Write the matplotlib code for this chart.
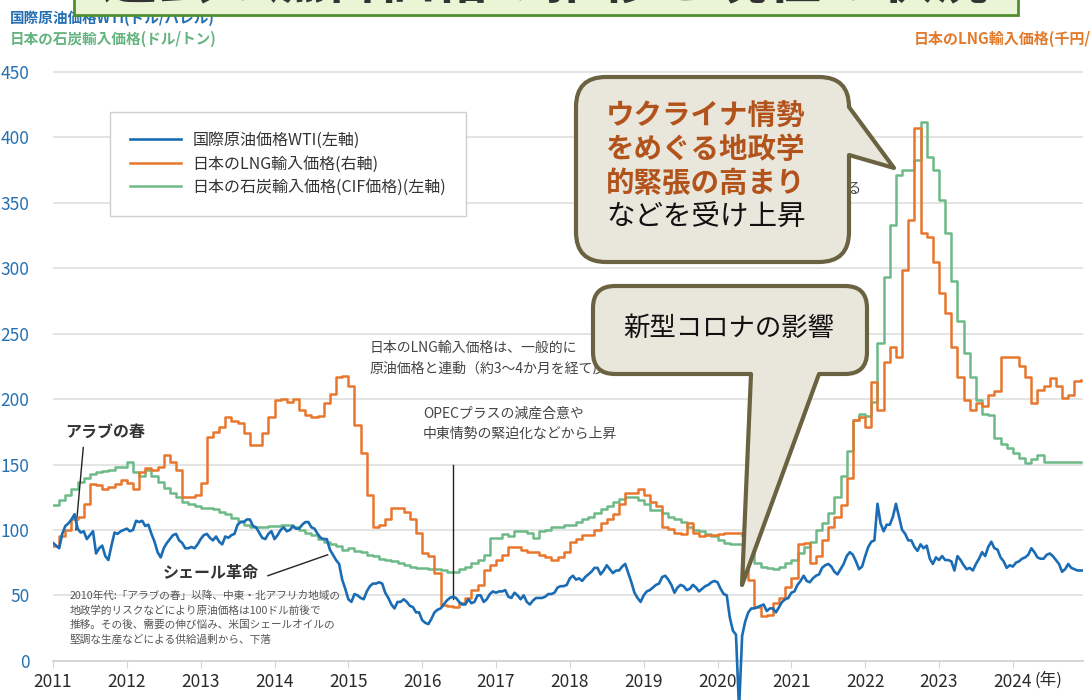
import numpy as np
import matplotlib
matplotlib.use("Agg")
import matplotlib.pyplot as plt
from matplotlib.path import Path
from matplotlib.patches import PathPatch, Rectangle

plt.rcParams['font.family'] = ['Noto Sans CJK JP', 'DejaVu Sans']

# --- data ---
# WTI, twice a month (1st / 16th), 2011-01 .. 2024-12, USD/bbl
wti = [
    90, 88, 86, 97, 103, 105, 108, 112, 101, 98, 99, 93, 96, 99, 82, 86, 88, 80, 77, 88, 98, 97, 99, 100,   # 2011
    101, 99, 100, 107, 106, 107, 103, 104, 97, 91, 83, 79, 86, 90, 93, 96, 97, 92, 90, 86, 86, 87, 86, 89,   # 2012
    93, 96, 97, 94, 92, 95, 91, 89, 95, 94, 96, 97, 104, 106, 106, 108, 108, 103, 102, 98, 94, 93, 97, 99,   # 2013
    93, 96, 100, 102, 99, 100, 103, 101, 101, 104, 106, 106, 102, 101, 97, 94, 93, 93, 85, 81, 77, 74, 62, 55,  # 2014
    47, 45, 51, 50, 48, 47, 53, 57, 59, 59, 60, 59, 52, 48, 43, 40, 45, 45, 47, 45, 42, 41, 37, 37,   # 2015
    31, 29, 28, 32, 37, 39, 40, 43, 46, 48, 49, 48, 45, 43, 43, 47, 44, 45, 50, 50, 45, 47, 51, 53,   # 2016
    52, 53, 53, 54, 49, 48, 52, 50, 47, 50, 45, 43, 46, 48, 48, 48, 49, 51, 51, 52, 56, 57, 57, 58,   # 2017
    63, 65, 62, 63, 61, 64, 66, 68, 71, 71, 66, 69, 73, 70, 67, 69, 69, 72, 74, 67, 60, 52, 48, 45,   # 2018
    50, 53, 54, 56, 58, 59, 64, 65, 62, 58, 52, 56, 58, 57, 54, 55, 58, 56, 53, 55, 57, 58, 60, 61,   # 2019
    60, 55, 51, 50, 33, 23, 20, -37, 19, 30, 37, 40, 40, 41, 42, 43, 38, 40, 40, 37, 41, 45, 47, 48,  # 2020
    52, 53, 58, 61, 65, 61, 60, 63, 65, 66, 71, 73, 74, 72, 68, 66, 70, 74, 80, 83, 81, 76, 70, 72,   # 2021
    80, 87, 91, 92, 120, 105, 99, 104, 104, 110, 120, 110, 100, 97, 92, 92, 87, 84, 89, 86, 88, 78, 74, 79,  # 2022
    77, 80, 77, 77, 76, 69, 80, 77, 73, 70, 71, 69, 74, 78, 83, 80, 87, 91, 86, 85, 79, 76, 71, 73,   # 2023
    72, 75, 76, 78, 79, 81, 86, 83, 79, 78, 78, 81, 82, 80, 77, 74, 68, 70, 74, 71, 70, 69, 69, 69,   # 2024
]

# Japan LNG import price, monthly, 2011-01 .. 2024-12 (plotted on left scale)
lng = [
    88, 95, 100, 108, 110, 120, 135, 134, 131, 133, 135, 138,
    136, 131, 144, 147, 146, 148, 157, 152, 146, 125, 125, 127,
    136, 171, 175, 179, 186, 183, 182, 174, 165, 165, 174, 186,
    199, 200, 198, 200, 192, 188, 186, 187, 197, 204, 217, 218,
    210, 180, 159, 127, 102, 104, 108, 117, 117, 114, 108, 98,
    82, 80, 67, 43, 42, 41, 44, 48, 54, 58, 69, 73,
    77, 81, 87, 87, 85, 83, 83, 81, 79, 77, 79, 83,
    91, 93, 96, 96, 100, 105, 108, 112, 120, 128, 128, 131,
    127, 121, 118, 102, 101, 98, 97, 105, 98, 95, 96, 96,
    97, 98, 98, 98, 95, 62, 41, 34, 35, 44, 48, 56,
    63, 89, 90, 75, 80, 92, 102, 110, 119, 140, 184, 186,
    179, 213, 192, 228, 240, 232, 299, 337, 407, 327, 324, 305,
    281, 266, 240, 217, 199, 192, 197, 195, 203, 206, 232, 232,
    232, 225, 217, 197, 207, 210, 216, 210, 201, 203, 214, 215,
]

# Japan coal import price (CIF), monthly, USD/t
coal = [
    119, 123, 127, 131, 137, 140, 143, 144, 145, 146, 148, 148,
    152, 144, 141, 146, 141, 137, 132, 128, 125, 121, 120, 118,
    117, 117, 116, 114, 112, 109, 107, 104, 102, 102, 102, 103,
    103, 104, 104, 102, 100, 98, 96, 93, 91, 89, 88, 85,
    86, 84, 83, 81, 80, 78, 77, 76, 75, 73, 72, 71,
    71, 70, 70, 69, 68, 68, 70, 72, 75, 77, 81, 94,
    94, 97, 95, 99, 99, 98, 94, 99, 100, 102, 102, 104,
    104, 106, 108, 110, 113, 116, 118, 121, 124, 125, 125, 123,
    120, 115, 115, 113, 110, 108, 106, 102, 100, 99, 97, 95,
    92, 90, 89, 89, 89, 82, 75, 72, 71, 70, 72, 75,
    77, 82, 87, 91, 100, 105, 113, 125, 141, 160, 184, 189,
    187, 198, 243, 293, 333, 371, 375, 375, 383, 412, 385, 375,
    352, 327, 290, 260, 235, 217, 199, 189, 188, 170, 166, 163,
    159, 155, 151, 154, 157, 152, 152, 152, 152, 152, 152, 152,
]

years = list(range(2011, 2025))
year_labels = [str(y) for y in years]
y_ticks = [0, 50, 100, 150, 200, 250, 300, 350, 400, 450]

labels = ['国際原油価格WTI(左軸)', '日本のLNG輸入価格(右軸)', '日本の石炭輸入価格(CIF価格)(左軸)']
colors = ['#1a6db4', '#e8772d', '#6dba88']

# x positions (decimal years)
x_month = 2011 + np.arange(len(lng)) / 12
x_semi = 2011 + np.arange(len(wti)) / 24

W, H = 1092, 700
fig = plt.figure(figsize=(W / 100, H / 100), dpi=100)
ax = fig.add_axes([53 / W, 0, 1030 / W, 641 / H])
ax.set_xlim(2011, 2024.95)
ax.set_ylim(-30, 460)

ax.plot(x_semi, wti, color=colors[0], lw=1.9, label=labels[0], zorder=4)
ax.plot(x_month, lng, color=colors[1], lw=1.8, drawstyle='steps-post', label=labels[1], zorder=3)
ax.plot(x_month, coal, color=colors[2], lw=1.8, drawstyle='steps-post', label=labels[2], zorder=2)

for s in ['top', 'right', 'left']:
    ax.spines[s].set_visible(False)
ax.spines['bottom'].set_position(('data', 0))
ax.spines['bottom'].set_color('#d5d5d5')
ax.spines['bottom'].set_linewidth(1.3)
ax.set_yticks(y_ticks)
ax.set_yticklabels([str(v) for v in y_ticks])
ax.tick_params(axis='y', length=0, pad=17, labelsize=12.5, labelcolor='#2470b3')
ax.set_xticks(years)
ax.set_xticklabels(year_labels)
ax.tick_params(axis='x', length=5, color='#d5d5d5', pad=4, labelsize=12.5, labelcolor='#2a2a2a')
ax.text(2024.29, -14.5, '(年)', fontsize=12, color='#2a2a2a', va='center', ha='left')
ax.grid(axis='y', color='#e2e2e2', lw=1.3)
ax.set_axisbelow(True)

leg = ax.legend(loc='upper left', bbox_to_anchor=(110 / W, 1 - 112 / H), bbox_transform=fig.transFigure,
                borderaxespad=0, fontsize=11.5, handlelength=3.2, handletextpad=0.7, labelspacing=0.4,
                borderpad=1.25, fancybox=False, edgecolor='#cfcfcf', framealpha=1)
for t in leg.get_texts():
    t.set_color('#333333')
leg.get_frame().set_linewidth(1.0)

# annotations
ax.text(2011.16, 175, 'アラブの春', fontsize=11.5, fontweight='bold', color='#333333', va='center')
ax.plot([2011.41, 2011.31], [163, 100], color='#222222', lw=1)
ax.text(2012.49, 67, 'シェール革命', fontsize=11.5, fontweight='bold', color='#333333', va='center')
ax.plot([2013.91, 2014.72], [65, 81], color='#222222', lw=1)
ax.text(2011.23, 54,
        '2010年代:「アラブの春」以降、中東・北アフリカ地域の\n'
        '地政学的リスクなどにより原油価格は100ドル前後で\n'
        '推移。その後、需要の伸び悩み、米国シェールオイルの\n'
        '堅調な生産などによる供給過剰から、下落',
        fontsize=7.7, color='#555555', va='top', linespacing=1.5)
ax.text(2015.29, 231, '日本のLNG輸入価格は、一般的に\n原油価格と連動（約3〜4か月を経て反映）',
        fontsize=10, color='#444444', va='center', linespacing=1.6)
ax.text(2016.01, 181, 'OPECプラスの減産合意や\n中東情勢の緊迫化などから上昇',
        fontsize=10, color='#444444', va='center', linespacing=1.6)
ax.plot([2016.42, 2016.42], [150, 47], color='#222222', lw=1)
ax.text(2021.96, 361, '価格が高騰する', fontsize=10.5, color='#444444', va='center', ha='right')

# axis titles
fig.text(10 / W, 1 - 18 / H, '国際原油価格WTI(ドル/バレル)', fontsize=10.5, color='#2470b3',
         fontweight='bold', va='center')
fig.text(10 / W, 1 - 39 / H, '日本の石炭輸入価格(ドル/トン)', fontsize=10.5, color='#63b47f',
         fontweight='bold', va='center')
fig.text(914 / W, 1 - 39 / H, '日本のLNG輸入価格(千円/トン)', fontsize=10.8, color='#e07a2c',
         fontweight='bold', va='center')

# title box (cut off at the top of the image)
fig.add_artist(Rectangle((74 / W, 1 - 15 / H), (1018 - 74) / W, 30 / H, transform=fig.transFigure,
                         facecolor='#eaf5d5', edgecolor='#4f8f2f', lw=2, zorder=5))
fig.text(546 / W, 1 + 2 / H, '過去の燃料価格の推移と現在の状況', fontsize=40, fontweight='bold',
         color='#333333', ha='center', va='baseline', zorder=6)


def bubble(x0, y0, x1, y1, r, tail_side, tail):
    v = [(x0 + r, y0)]
    c = [Path.MOVETO]
    v += [(x1 - r, y0), (x1, y0), (x1, y0 + r)]
    c += [Path.LINETO, Path.CURVE3, Path.CURVE3]
    if tail_side == 'right':
        v += tail
        c += [Path.LINETO] * len(tail)
    v += [(x1, y1 - r), (x1, y1), (x1 - r, y1)]
    c += [Path.LINETO, Path.CURVE3, Path.CURVE3]
    if tail_side == 'bottom':
        v += tail
        c += [Path.LINETO] * len(tail)
    v += [(x0 + r, y1), (x0, y1), (x0, y1 - r)]
    c += [Path.LINETO, Path.CURVE3, Path.CURVE3]
    v += [(x0, y0 + r), (x0, y0), (x0 + r, y0), (x0 + r, y0)]
    c += [Path.LINETO, Path.CURVE3, Path.CURVE3, Path.CLOSEPOLY]
    v = [(px / W, 1 - py / H) for px, py in v]
    patch = PathPatch(Path(v, c), transform=fig.transFigure, facecolor='#e9e6dc',
                      edgecolor='#6b6241', lw=3, joinstyle='round', zorder=7)
    fig.add_artist(patch)


bubble(576, 77, 849, 262, 30, 'right', [(849, 107), (894, 168), (849, 155)])
bubble(593, 286, 867, 374, 22, 'bottom', [(819, 374), (742, 585), (751, 374)])

for i, line in enumerate(['ウクライナ情勢', 'をめぐる地政学', '的緊張の高まり']):
    fig.text(606 / W, 1 - (116 + 34 * i) / H, line, fontsize=20.5, fontweight='bold', color='#b3531c',
             va='center', zorder=8)
fig.text(606 / W, 1 - 218 / H, 'などを受け上昇', fontsize=20.5, color='#111111', va='center', zorder=8)
fig.text(729 / W, 1 - 328 / H, '新型コロナの影響', fontsize=19, color='#111111', ha='center',
         va='center', zorder=8)

fig.savefig('out.png', dpi=100)
